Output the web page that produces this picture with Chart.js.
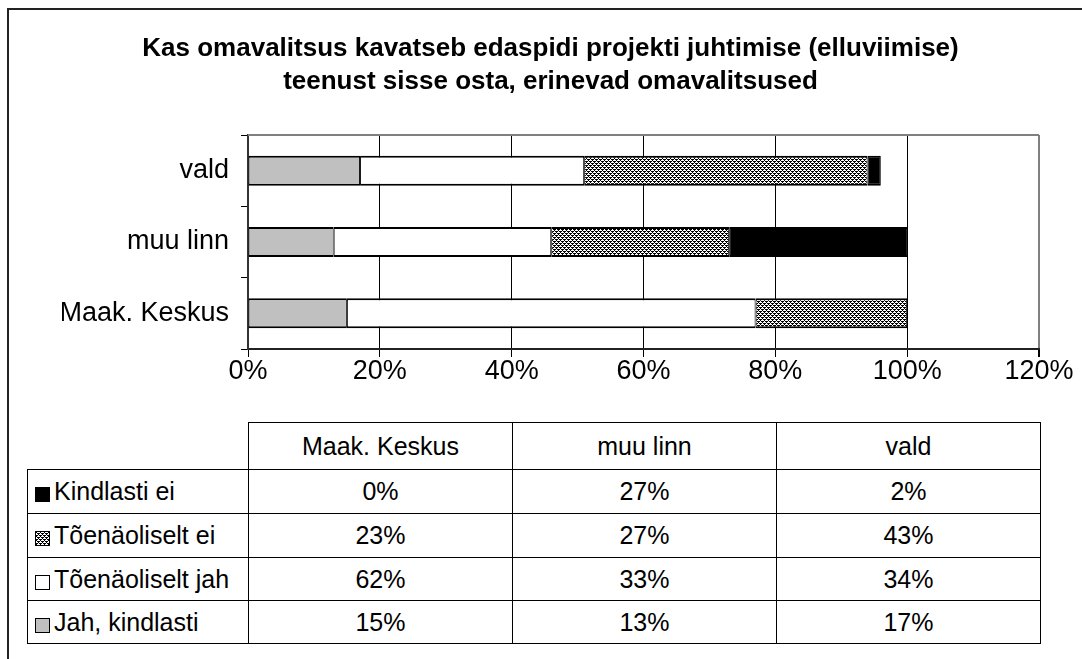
<!DOCTYPE html>
<html>
<head>
<meta charset="utf-8">
<script src="https://cdn.jsdelivr.net/npm/chart.js@4.4.1/dist/chart.umd.min.js"></script>
<style>
  html, body { margin: 0; padding: 0; background: #fff; }
  #wrap { position: relative; width: 1082px; height: 659px; overflow: hidden; background: #fff;
          font-family: "Liberation Sans", Arial, sans-serif; color: #000; }
  #frame { position: absolute; left: 7px; top: 8px; width: 1200px; height: 800px;
           border-left: 2px solid #222; border-top: 2px solid #222; }
  #chartBox { position: absolute; left: 0; top: 0; width: 1082px; height: 420px; }
  #tbl { position: absolute; left: 27px; top: 422px; border-collapse: collapse; table-layout: fixed;
         font-size: 25px; }
  #tbl td { border: 1px solid #000; text-align: center; padding: 0; white-space: nowrap; overflow: hidden; }
  #tbl td.blank { border: none; }
  #tbl td.lab { text-align: left; padding-left: 7px; }
  .key { display: inline-block; width: 15px; height: 15px; border: 1px solid #000; margin-right: 4px;
         vertical-align: -2px; box-sizing: border-box; }
</style>
</head>
<body>
<div id="wrap">
  <div id="frame"></div>
  <div id="chartBox"><canvas id="c"></canvas></div>
  <table id="tbl"></table>
</div>
<script>
// ---- data ----
const titleLines = ['Kas omavalitsus kavatseb edaspidi projekti juhtimise (elluviimise)',
                    'teenust sisse osta, erinevad omavalitsused'];
const categories = ['Maak. Keskus', 'muu linn', 'vald'];
const seriesNames = ['Jah, kindlasti', 'Tõenäoliselt jah', 'Tõenäoliselt ei', 'Kindlasti ei'];
const jahKindlasti     = [15, 13, 17];
const toenaoliseltJah  = [62, 33, 34];
const toenaoliseltEi   = [23, 27, 43];
const kindlastiEi      = [0, 27, 2];
const xTicks = [0, 20, 40, 60, 80, 100, 120];

// ---- styles ----
function makeHatch() {
  const c = document.createElement('canvas');
  c.width = 4; c.height = 4;
  const g = c.getContext('2d');
  g.fillStyle = '#fff'; g.fillRect(0, 0, 4, 4);
  g.fillStyle = '#000';
  for (let y = 0; y < 4; y++) for (let x = 0; x < 4; x++) {
    if ((x + y) % 2 === 0 && !((x + y) % 4 === 2 && y % 2 === 0)) g.fillRect(x, y, 1, 1);
    if ((x - y + 4) % 4 === 1 && y % 2 === 1) g.fillRect(x, y, 1, 1);
  }
  return c;
}
const hatchCanvas = makeHatch();
const ctx = document.getElementById('c').getContext('2d');
const hatch = ctx.createPattern(hatchCanvas, 'repeat');
const fills = ['#c0c0c0', '#ffffff', hatch, '#000000'];
const keyCss = ['#c0c0c0', '#ffffff', `url(${hatchCanvas.toDataURL()})`, '#000000'];
const seriesData = [jahKindlasti, toenaoliseltJah, toenaoliseltEi, kindlastiEi];

const FONT = '"Liberation Sans", Arial, sans-serif';

const framePlugin = {
  id: 'frameTop',
  beforeDatasetsDraw(chart) {
    const a = chart.chartArea, g = chart.ctx;
    g.save();
    g.strokeStyle = '#808080'; g.lineWidth = 2;
    g.beginPath(); g.moveTo(a.left, a.top); g.lineTo(a.right, a.top); g.stroke();
    g.restore();
  }
};

new Chart(ctx, {
  type: 'bar',
  data: {
    labels: categories,
    datasets: seriesNames.map((n, i) => ({
      label: n,
      data: seriesData[i],
      backgroundColor: fills[i],
      borderColor: '#000',
      borderWidth: { top: 2, bottom: 2, left: 1, right: 1 },
      borderSkipped: false,
      categoryPercentage: 1,
      barPercentage: 0.42
    }))
  },
  options: {
    indexAxis: 'y',
    responsive: true,
    maintainAspectRatio: false,
    animation: false,
    layout: { padding: { left: 62, right: 43, top: 0, bottom: 0 } },
    plugins: {
      legend: { display: false },
      tooltip: { enabled: false },
      title: {
        display: true,
        text: titleLines,
        color: '#000',
        font: { family: FONT, size: 26, weight: 'bold', lineHeight: 33 / 26 },
        padding: { top: 32, bottom: 37 }
      }
    },
    scales: {
      x: {
        stacked: true,
        min: 0, max: 120,
        afterBuildTicks: s => { s.ticks = xTicks.map(v => ({ value: v })); },
        afterFit: s => { s.height = 71; },
        ticks: { color: '#000', font: { family: FONT, size: 27, lineHeight: 1 }, padding: 1,
                 callback: v => v + '%' },
        grid: {
          color: c => (c.tick && c.tick.value === 120) ? '#808080' : '#000',
          lineWidth: c => (c.tick && c.tick.value === 120) ? 2 : 1,
          tickLength: 8, tickColor: '#000'
        },
        border: { color: '#222', width: 2 }
      },
      y: {
        stacked: true,
        reverse: true,
        afterFit: s => { s.width = 186; },
        ticks: { color: '#000', font: { family: FONT, size: 27 }, padding: 12 },
        grid: { drawOnChartArea: false, offset: true, tickLength: 7, color: '#000' },
        border: { color: '#333', width: 2 }
      }
    }
  },
  plugins: [framePlugin]
});

// ---- data table ----
const tbl = document.getElementById('tbl');
const colW = [221, 264, 264, 264];
let html = '<colgroup>' + colW.map(w => `<col style="width:${w}px">`).join('') + '</colgroup>';
html += '<tr style="height:47px"><td class="blank"></td>' +
        categories.map(c => `<td>${c}</td>`).join('') + '</tr>';
const rowHeights = [44, 44, 43, 43];
for (let k = 0; k < 4; k++) {
  const i = 3 - k;
  html += `<tr style="height:${rowHeights[k]}px"><td class="lab"><span class="key" style="background:${keyCss[i]}"></span>${seriesNames[i]}</td>` +
          seriesData[i].map(v => `<td>${v}%</td>`).join('') + '</tr>';
}
tbl.innerHTML = html;
</script>
</body>
</html>
